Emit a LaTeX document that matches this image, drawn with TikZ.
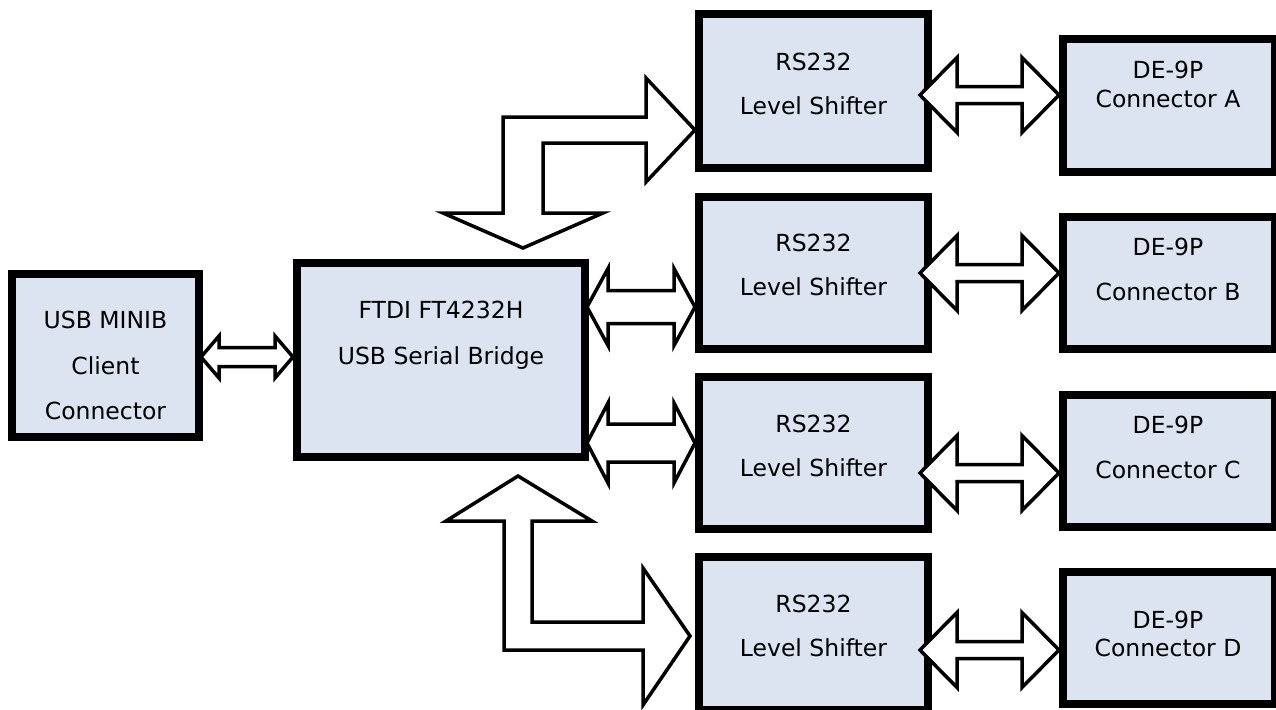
\documentclass[tikz,border=0pt]{standalone}
\usepackage{fontspec}
\setmainfont{DejaVu Sans}
\usetikzlibrary{calc}
\definecolor{boxfill}{HTML}{DBE4F0}
\tikzset{
  box/.style={draw,line width=4pt,fill=boxfill,inner sep=0pt},
  lbl/.style={align=center,inner sep=0pt,font=\fontsize{11.75}{#1}\selectfont},
  lbl/.default=22.5,
  blockarrow/.style={draw,fill=white,line width=1.75pt,line join=miter}
}
% #1 left tip, #2 right tip, #3 half shaft, #4 half head, #5 head length
\newcommand\dblarrow[5]{%
  \draw[blockarrow] (#1) -- ++(#5,-#4) -- ++(0,#4-#3) -- ($(#2)+(-#5,-#3)$)
    -- ++(0,#3-#4) -- (#2) -- ++(-#5,#4) -- ++(0,#3-#4) -- ($(#1)+(#5,#3)$)
    -- ++(0,#4-#3) -- cycle;}
\begin{document}
\begin{tikzpicture}[x=0.5pt,y=-0.5pt]
\useasboundingbox (0,0) rectangle (1276,709);
\node[box,minimum width=93.5pt,minimum height=81.5pt] (usb) at (105.5,355.5) {};
\node[lbl=22.75] (usbtext) at (105.5,365.5) {USB MINIB\\Client\\Connector};
\node[box,minimum width=144pt,minimum height=97pt] (ftdi) at (441,360) {};
\node[lbl=23] (ftditext) at (441,334.8) {FTDI FT4232H\\USB Serial Bridge};
\node[box,minimum width=114.5pt,minimum height=77pt] (rsA) at (813.5,91) {};
\node[lbl=22] (rsAtext) at (813.5,84) {RS232\\Level Shifter};
\node[box,minimum width=114.5pt,minimum height=76pt] (rsB) at (813.5,273) {};
\node[lbl=22] (rsBtext) at (813.5,265) {RS232\\Level Shifter};
\node[box,minimum width=114.5pt,minimum height=76pt] (rsC) at (813.5,453) {};
\node[lbl=22] (rsCtext) at (813.5,445.5) {RS232\\Level Shifter};
\node[box,minimum width=114.5pt,minimum height=76.5pt] (rsD) at (813.5,633.5) {};
\node[lbl=22] (rsDtext) at (813.5,626) {RS232\\Level Shifter};
\node[box,minimum width=106pt,minimum height=66.5pt] (deA) at (1169,105.5) {};
\node[lbl=14.5] (deAtext) at (1168,84.5) {DE-9P\\Connector A};
\node[box,minimum width=106pt,minimum height=66pt] (deB) at (1169,283) {};
\node[lbl=22.5] (deBtext) at (1168,269.5) {DE-9P\\Connector B};
\node[box,minimum width=106pt,minimum height=66pt] (deC) at (1169,461) {};
\node[lbl=22.5] (deCtext) at (1168,447.5) {DE-9P\\Connector C};
\node[box,minimum width=106pt,minimum height=66pt] (deD) at (1169,638) {};
\node[lbl=14] (deDtext) at (1168,634) {DE-9P\\Connector D};
% usb to bridge
\coordinate (u1) at ($(usb.east)+(-2,1.5)$);
\coordinate (u2) at (ftdi.west |- u1);
\dblarrow{u1}{u2}{9.5}{21}{18}
% bridge to shifters
\coordinate (b1) at ($(ftdi.east)+(-2,-53)$);
\coordinate (b2) at (rsB.west |- b1);
\dblarrow{b1}{b2}{16.5}{38.5}{21}
\coordinate (c1) at ($(ftdi.east)+(-2,83)$);
\coordinate (c2) at (rsC.west |- c1);
\dblarrow{c1}{c2}{19}{40}{21}
\coordinate (topin) at ($(ftdi.north)+(82,-11)$);
\coordinate (topout) at ($(rsA.west)+(0,39)$);
\draw[blockarrow] (topin) -- ++(80,-35) -- ++(-60,0) |- ($(topout)+(-49,13)$) -- ++(0,39)
  -- (topout) -- ++(-49,-52) -- ++(0,39) -| ($(topin)+(-20,-35)$) -- ++(-60,0) -- cycle;
\coordinate (botin) at ($(ftdi.south)+(77,15)$);
\coordinate (botout) at ($(rsD.west)+(-5,2.5)$);
\draw[blockarrow] (botin) -- ++(74,45) -- ++(-60,0) |- ($(botout)+(-47,-14)$) -- ++(0,-54)
  -- (botout) -- ++(-47,69) -- ++(0,-55) -| ($(botin)+(-14,45)$) -- ++(-58,0) -- cycle;
% shifters to connectors
\coordinate (a1) at ($(rsA.east)+(-12,4)$);
\coordinate (a2) at (deA.west |- a1);
\dblarrow{a1}{a2}{8.5}{37.5}{37}
\coordinate (e1) at ($(rsB.east)+(-12,0)$);
\coordinate (e2) at (deB.west |- e1);
\dblarrow{e1}{e2}{8.5}{37.5}{37}
\coordinate (f1) at ($(rsC.east)+(-12,20)$);
\coordinate (f2) at (deC.west |- f1);
\dblarrow{f1}{f2}{8.5}{37.5}{37}
\coordinate (g1) at ($(rsD.east)+(-12,16.5)$);
\coordinate (g2) at (deD.west |- g1);
\dblarrow{g1}{g2}{8.5}{37.5}{37}
\end{tikzpicture}
\end{document}
